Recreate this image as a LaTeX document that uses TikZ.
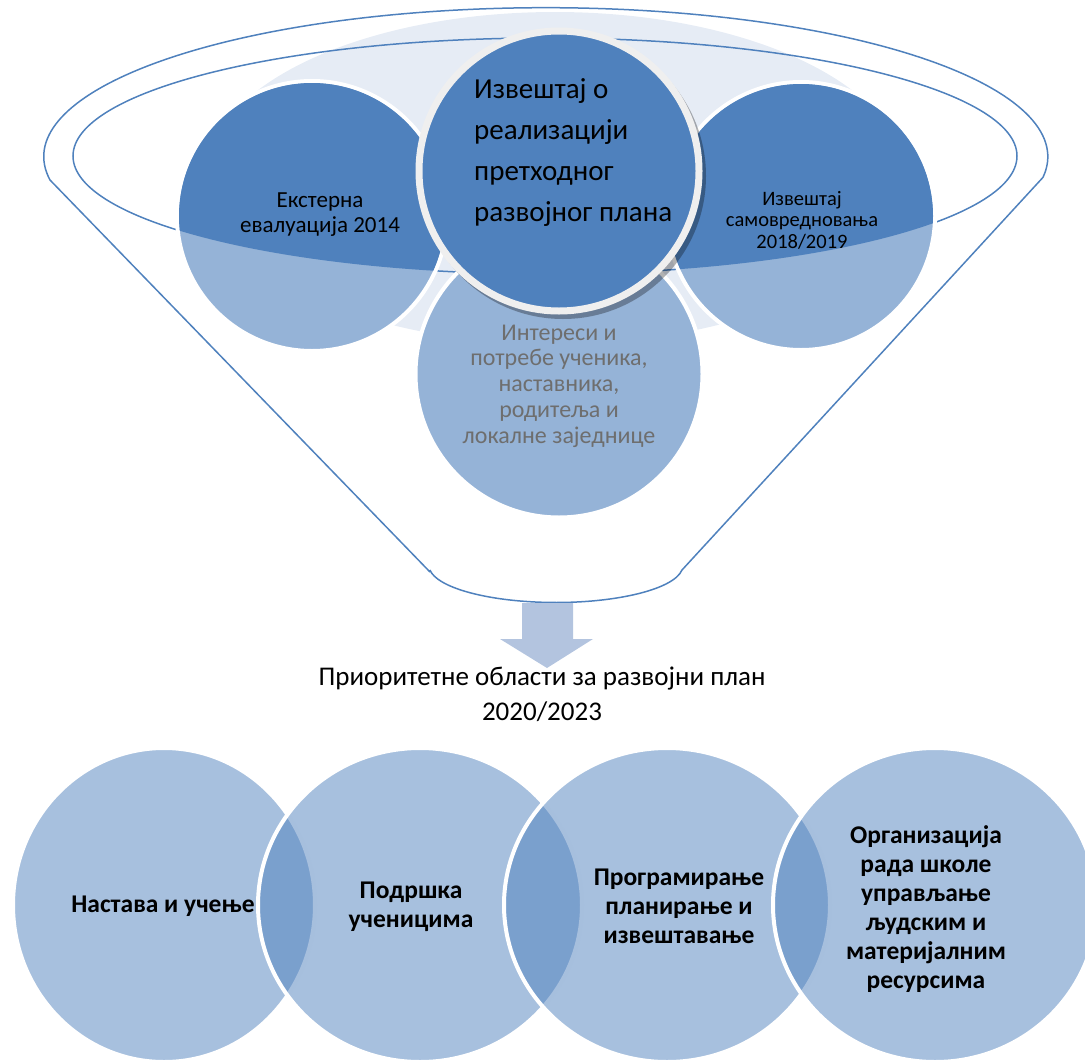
\documentclass[tikz,border=0pt]{standalone}
\usepackage{fontspec}
\setmainfont{Carlito}
\usepackage{tikz}
\usetikzlibrary{shapes.geometric}

\definecolor{accblue}{HTML}{4F81BD}
\definecolor{midblue}{HTML}{95B3D7}
\definecolor{paleblue}{HTML}{E6ECF5}
\definecolor{arrowblue}{HTML}{B3C4DF}
\definecolor{ringgray}{HTML}{EFEFEF}
\definecolor{softgray}{HTML}{6E6E6E}

\tikzset{
  funnel/.style={draw=accblue, line width=1.5pt},
  topcircle/.style={circle, draw=white, line width=4pt, fill=midblue, inner sep=0pt},
  venn/.style={ellipse, draw=white, line width=4pt, fill=accblue, fill opacity=0.5, inner sep=0pt, minimum height=314pt},
  venntext/.style={align=center, inner sep=0pt, font=\fontsize{25.5}{29}\selectfont\bfseries},
}

\begin{document}
\begin{tikzpicture}[x=1pt,y=-1pt]
  \useasboundingbox (0,0) rectangle (1085,1063);
  \fill[paleblue] (555,178) ellipse [x radius=350, y radius=166];
  \draw[funnel] (430,572) -- (50,180) arc[start angle=171, end angle=368, x radius=502, y radius=149]
    -- (682,570) arc[start angle=7, end angle=173, x radius=127, y radius=37];
  \draw[funnel] (545,156) ellipse [x radius=472, y radius=118];

  \node[topcircle, minimum size=270pt] (extern) at (312,216) {};
  \node[topcircle, minimum size=268pt] (selfeval) at (801,216) {};
  \node[topcircle, minimum size=287pt] (needs) at (559,374) {};
  \begin{scope}
    \clip (545,156) ellipse [x radius=472, y radius=118];
    \fill[accblue] (extern) circle [radius=133];
    \fill[accblue] (selfeval) circle [radius=132];
    \fill[accblue] (needs) circle [radius=141.5];
  \end{scope}

  \fill[black, opacity=0.3] (563,176) circle [radius=143];
  \node[circle, draw=ringgray, line width=7pt, fill=accblue, minimum size=280pt] (report) at (559,171) {};

  \node[align=center, inner sep=0pt, font=\fontsize{23}{25}\selectfont] (externtext) at (320,215) {Екстерна\\евалуација 2014};
  \node[align=center, inner sep=0pt, font=\fontsize{20.5}{21.5}\selectfont] (selfevaltext) at (802,220) {Извештај\\самовредновања\\2018/2019};
  \node[align=left, anchor=west, inner sep=0pt, font=\fontsize{29}{41}\selectfont] (reporttext) at (474,153) {Извештај о\\реализацији\\претходног\\развојног плана};
  \node[align=center, inner sep=0pt, text=softgray, font=\fontsize{24}{25.7}\selectfont] (needstext) at (559,386) {Интереси и\\потребе ученика,\\наставника,\\родитеља и\\локалне заједнице};

  \fill[arrowblue] (522,603) -- (573,603) -- (573,639) -- (593,639) -- (547,668) -- (500,639) -- (522,639) -- cycle;
  \node[align=center, inner sep=0pt, font=\fontsize{27}{35}\selectfont] (priority) at (542,694) {Приоритетне области за развојни план\\2020/2023};

  \node[venn, minimum width=302pt] (teach) at (164,905) {};
  \node[venn, minimum width=324pt] (support) at (420,905) {};
  \node[venn, minimum width=326pt] (program) at (667,905) {};
  \node[venn, minimum width=324pt] (organise) at (935,905) {};
  \node[venntext] (teachtext) at (163,906) {Настава и учење};
  \node[venntext] (supporttext) at (411,907) {Подршка\\ученицима};
  \node[venntext] (programtext) at (679,906) {Програмирање\\планирање и\\извештавање};
  \node[venntext] (organisetext) at (926,909) {Организација\\рада школе\\управљање\\људским и\\материјалним\\ресурсима};
\end{tikzpicture}
\end{document}
